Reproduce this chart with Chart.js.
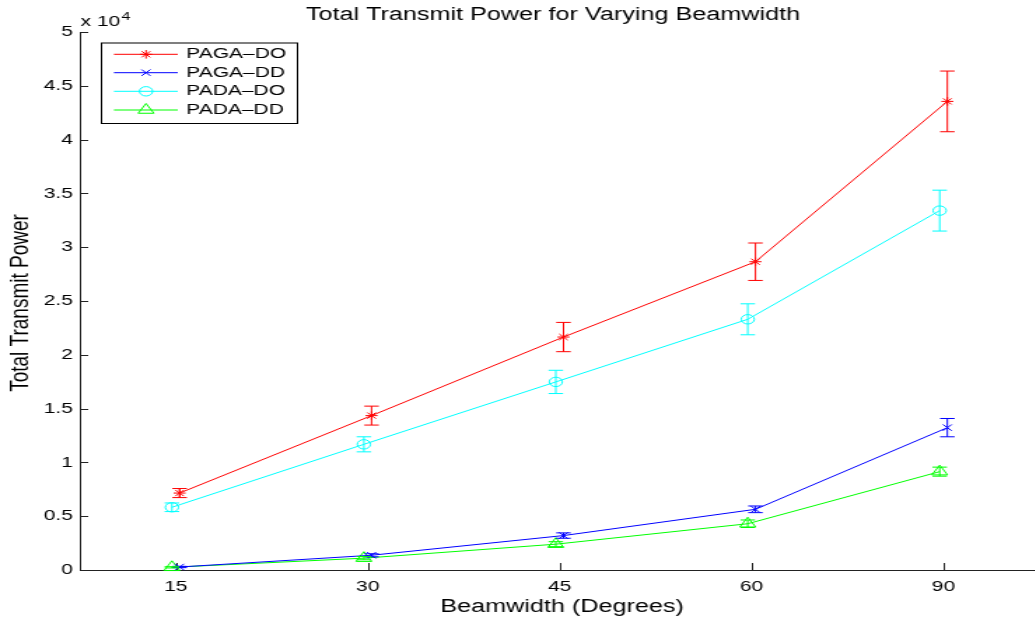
<!DOCTYPE html>
<html>
<head>
<meta charset="utf-8">
<script src="https://cdn.jsdelivr.net/npm/chart.js@4.4.1/dist/chart.umd.min.js"></script>
<style>
  html, body { margin: 0; padding: 0; background: #fff; overflow: hidden; width: 1035px; height: 619px; }
  /* the reference figure is stretched sideways, so the canvas is too */
  #grafica { transform: scaleX(1.4); transform-origin: 0 0; }
</style>
</head>
<body>
<canvas id="grafica" width="750" height="619"></canvas>
<script>
// Datos
const beamwidths = ['15', '30', '45', '60', '90'];

const pagaDO    = [7150, 14350, 21650, 28650, 43550];
const pagaDOErr = [420, 880, 1360, 1740, 2820];
const pagaDD    = [280, 1370, 3200, 5640, 13230];
const pagaDDErr = [60, 140, 250, 310, 850];
const padaDO    = [5830, 11680, 17480, 23300, 33400];
const padaDOErr = [400, 700, 1080, 1440, 1900];
const padaDD    = [250, 1100, 2400, 4300, 9140];
const padaDDErr = [60, 150, 230, 350, 420];

const FONT = "'Liberation Sans', Arial, Helvetica, sans-serif";

function puntos(valores, desplaz) {
    return valores.map((v, i) => ({ x: i + 1 + desplaz, y: v }));
}

function serie(label, valores, errores, color, estilo, radio, desplaz) {
    return {
        label: label,
        data: puntos(valores, desplaz),
        errors: errores,
        borderColor: color,
        backgroundColor: 'rgba(0,0,0,0)',
        pointBorderColor: color,
        pointBackgroundColor: 'rgba(0,0,0,0)',
        pointStyle: estilo,
        pointRadius: radio,
        pointBorderWidth: 1,
        borderWidth: 1,
        tension: 0,
        clip: false
    };
}

const datasets = [
    serie('PAGA\u2013DO', pagaDO, pagaDOErr, '#ff0000', 'star', 4.3, 0.02),
    serie('PAGA\u2013DD', pagaDD, pagaDDErr, '#0000ff', 'crossRot', 4.5, 0.02),
    serie('PADA\u2013DO', padaDO, padaDOErr, '#00ffff', 'circle', 4.7, -0.02),
    serie('PADA\u2013DD', padaDD, padaDDErr, '#00ff00', 'triangle', 6.5, -0.02)
];

// Ejes estilo MATLAB, barras de error, titulos y leyenda con recuadro
const decoracion = {
    id: 'decoracion',
    beforeDatasetsDraw(chart) {
        const ctx = chart.ctx;
        const a = chart.chartArea;
        const xs = chart.scales.x, ys = chart.scales.y;
        ctx.save();
        ctx.strokeStyle = '#222';
        ctx.lineWidth = 1;
        ctx.beginPath();
        ctx.moveTo(a.left + 0.5, a.top);
        ctx.lineTo(a.left + 0.5, a.bottom + 0.5);
        ctx.lineTo(a.right, a.bottom + 0.5);
        // marcas hacia dentro
        xs.ticks.forEach(t => {
            const x = Math.round(xs.getPixelForValue(t.value)) + 0.5;
            ctx.moveTo(x, a.bottom);
            ctx.lineTo(x, a.bottom - 7);
        });
        ys.ticks.forEach(t => {
            const y = Math.round(ys.getPixelForValue(t.value)) + 0.5;
            ctx.moveTo(a.left, y);
            ctx.lineTo(a.left + 6, y);
        });
        ctx.stroke();
        ctx.restore();
    },
    afterDatasetsDraw(chart) {
        const ctx = chart.ctx;
        const ys = chart.scales.y;
        ctx.save();
        ctx.lineWidth = 1;
        chart.data.datasets.forEach((ds, i) => {
            const meta = chart.getDatasetMeta(i);
            ctx.strokeStyle = ds.borderColor;
            meta.data.forEach((p, j) => {
                const v = ds.data[j].y, e = ds.errors[j];
                const y1 = ys.getPixelForValue(v + e);
                const y2 = ys.getPixelForValue(v - e);
                ctx.beginPath();
                ctx.moveTo(p.x, y1);
                ctx.lineTo(p.x, y2);
                ctx.moveTo(p.x - 5.2, y1);
                ctx.lineTo(p.x + 5.2, y1);
                ctx.moveTo(p.x - 5.2, y2);
                ctx.lineTo(p.x + 5.2, y2);
                ctx.stroke();
            });
        });
        ctx.restore();
    },
    afterDraw(chart) {
        const ctx = chart.ctx;
        ctx.save();
        ctx.fillStyle = '#000';

        // titulo
        ctx.font = '18px ' + FONT;
        ctx.textAlign = 'center';
        ctx.textBaseline = 'alphabetic';
        ctx.fillText('Total Transmit Power for Varying Beamwidth', 395, 19.5);

        // etiqueta eje x
        ctx.fillText('Beamwidth (Degrees)', 401.5, 611.5);

        // etiqueta eje y
        ctx.save();
        ctx.translate(14.3, 303);
        ctx.rotate(-Math.PI / 2);
        ctx.font = '19px ' + FONT;
        ctx.textBaseline = 'middle';
        ctx.fillText('Total Transmit Power', 0, 0);
        ctx.restore();

        // factor x 10^4
        ctx.textAlign = 'left';
        ctx.font = '15px ' + FONT;
        ctx.fillText('x 10', 57.5, 25.5);
        const w = ctx.measureText('x 10').width;
        ctx.font = '11.5px ' + FONT;
        ctx.fillText('4', 57.5 + w + 1, 19.5);

        // leyenda
        const bx = 72, by = 42.5, bw = 140, bh = 80.5;
        ctx.fillStyle = '#fff';
        ctx.fillRect(bx, by, bw, bh);
        ctx.strokeStyle = '#000';
        ctx.lineWidth = 1;
        ctx.strokeRect(bx + 0.5, by + 0.5, bw, bh);
        const filas = [54.3, 72.7, 91.3, 110];
        ctx.font = '15px ' + FONT;
        ctx.textBaseline = 'middle';
        chart.data.datasets.forEach((ds, i) => {
            const y = filas[i];
            ctx.strokeStyle = ds.borderColor;
            ctx.beginPath();
            ctx.moveTo(81.4, y);
            ctx.lineTo(127, y);
            ctx.stroke();
            ctx.fillStyle = 'rgba(0,0,0,0)';
            Chart.helpers.drawPoint(ctx, {
                pointStyle: ds.pointStyle,
                radius: ds.pointRadius,
                borderWidth: 1,
                rotation: 0
            }, 104.3, y);
            ctx.fillStyle = '#000';
            ctx.fillText(ds.label, 133, y);
        });
        ctx.restore();
    }
};

const config = {
    type: 'line',
    data: { datasets: datasets },
    options: {
        responsive: false,
        animation: false,
        devicePixelRatio: 1,
        layout: { padding: { top: 32, right: 5, left: 0, bottom: 0 } },
        plugins: {
            legend: { display: false },
            title: { display: false },
            tooltip: { enabled: false }
        },
        scales: {
            x: {
                type: 'linear',
                min: 0.5,
                max: 5.5,
                grid: { display: false, drawTicks: false },
                border: { display: false },
                afterBuildTicks: s => { s.ticks = beamwidths.map((_, i) => ({ value: i + 1 })); },
                afterFit: s => { s.height = 49; },
                ticks: {
                    callback: v => beamwidths[v - 1],
                    font: { family: FONT, size: 15 },
                    color: '#000',
                    padding: 8,
                    maxRotation: 0,
                    autoSkip: false
                }
            },
            y: {
                min: 0,
                max: 50000,
                grid: { display: false, drawTicks: false },
                border: { display: false },
                afterFit: s => { s.width = 57; },
                ticks: {
                    stepSize: 5000,
                    callback: v => String(v / 10000),
                    font: { family: FONT, size: 15 },
                    color: '#000',
                    padding: 5
                }
            }
        }
    },
    plugins: [decoracion]
};

var grafica = new Chart(document.getElementById('grafica'), config);
</script>
</body>
</html>
